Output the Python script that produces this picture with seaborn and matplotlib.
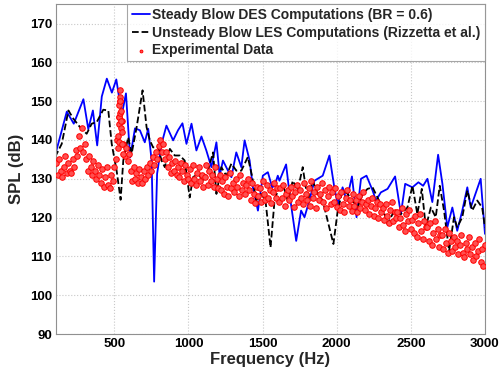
import numpy as np
import pandas as pd
import matplotlib
matplotlib.use("Agg")
import matplotlib.pyplot as plt
import seaborn as sns

# Steady blow DES (blue)
des_freq = [108, 180, 227, 292, 325, 356, 385, 416, 450, 484, 514, 551, 579, 607, 640,
            673, 706, 729, 752, 769, 789, 819, 852, 897, 930, 960, 987, 1021, 1054, 1088,
            1121, 1155, 1189, 1211, 1233, 1267, 1290, 1323, 1357, 1379, 1413, 1435, 1469,
            1502, 1536, 1565, 1581, 1603, 1614, 1659, 1682, 1727, 1760, 1783, 1816, 1850,
            1906, 1951, 1984, 2007, 2040, 2067, 2103, 2134, 2164, 2201, 2242, 2265, 2298,
            2343, 2394, 2433, 2462, 2511, 2551, 2583, 2612, 2645, 2684, 2713, 2746, 2780,
            2813, 2847, 2881, 2904, 2971, 3000]
des_spl = [137.0, 147.3, 144.2, 150.5, 142.8, 147.6, 138.6, 151.2, 155.8, 152.2, 155.6,
           146.5, 152.0, 135.5, 143.0, 142.5, 139.4, 142.9, 134.7, 103.5, 131.3, 139.0,
           143.7, 139.9, 142.5, 144.3, 139.0, 144.2, 137.3, 140.9, 137.3, 133.0, 139.4,
           130.8, 134.7, 132.1, 130.4, 136.8, 133.0, 139.9, 134.7, 127.8, 121.8, 130.8,
           131.7, 127.8, 128.2, 130.8, 129.5, 133.7, 126.1, 114.0, 121.8, 120.1, 124.4,
           129.5, 130.8, 136.0, 127.8, 123.5, 127.8, 124.4, 130.6, 120.1, 130.0, 130.8,
           127.0, 124.4, 126.5, 127.4, 130.6, 120.9, 128.7, 127.8, 129.1, 128.2, 130.0,
           124.0, 136.2, 128.7, 117.5, 122.6, 116.6, 121.8, 127.8, 122.6, 130.0, 115.8]

# Unsteady blow LES (black dashed)
les_freq = [101, 146, 191, 224, 269, 314, 348, 382, 426, 460, 483, 516, 543, 561, 594,
            617, 651, 691, 718, 740, 762, 796, 819, 841, 875, 908, 942, 975, 1009, 1031,
            1065, 1099, 1132, 1166, 1189, 1222, 1256, 1290, 1323, 1357, 1401, 1431, 1458,
            1491, 1520, 1554, 1581, 1603, 1636, 1670, 1704, 1737, 1771, 1805, 1838, 1872,
            1906, 1939, 1978, 2007, 2040, 2074, 2107, 2141, 2175, 2208, 2242, 2275, 2309,
            2343, 2388, 2433, 2477, 2511, 2544, 2574, 2601, 2635, 2668, 2695, 2724, 2758,
            2791, 2813, 2847, 2881, 2914, 2948, 2981, 3000]
les_spl = [135.6, 139.0, 147.6, 145.5, 143.3, 141.6, 144.2, 144.6, 147.8, 147.6, 139.0,
           132.1, 124.6, 134.7, 140.7, 136.4, 143.3, 152.8, 143.3, 139.9, 138.1, 138.1,
           134.7, 133.0, 137.7, 136.0, 136.0, 134.7, 125.2, 130.4, 131.3, 129.5, 132.1,
           136.8, 126.1, 133.0, 130.8, 133.9, 132.1, 132.1, 135.6, 130.4, 124.4, 126.1,
           124.4, 112.3, 124.4, 127.0, 128.7, 124.4, 129.5, 127.0, 133.0, 124.4, 129.5,
           126.1, 124.4, 119.2, 113.2, 121.8, 127.0, 126.1, 124.4, 122.6, 126.1, 127.4,
           127.8, 125.2, 122.6, 118.3, 121.8, 120.9, 122.6, 128.2, 120.9, 127.4, 117.5,
           122.6, 120.1, 128.2, 121.8, 111.4, 120.1, 117.5, 120.1, 127.0, 121.8, 124.4,
           122.6, 117.5]

# Experimental data (red), 10 Hz bins from 110 to 3000 Hz
exp_freq = list(range(110, 3001, 10))
exp_spl = [
    134, 131, 135, 132, 130.5, 133, 136, 131.5, 134, 132,
    131.5, 135, 133, 137.5, 136, 141, 138, 143, 137, 139,
    135, 132, 136, 133, 131, 134.5, 132, 130, 133.5, 131,
    129, 132.5, 128, 130.5, 133, 128.5, 127.7, 131, 129.5, 133,
    135, 140, 146, 150, 145, 139, 136, 138, 134.5, 136.5,
    132, 129.5, 133, 130, 131.5, 129, 132.5, 130.5, 128.8, 132,
    130, 133, 131, 134, 132, 135.5, 133.5, 137, 135, 138.5,
    140, 137, 139, 135, 137, 133, 135.5, 131.5, 134, 132,
    134.5, 131, 133, 130.5, 134, 132, 129.5, 133.5, 131, 130,
    132.5, 129, 133.5, 130, 128.5, 131.5, 133, 129.5, 131, 128,
    130.5, 133.5, 128.5, 132, 129.5, 131, 128, 133, 130, 127.5,
    131, 127, 129.5, 126, 130.5, 128, 125.5, 131.5, 127.5, 129,
    126.5, 130, 128, 125.5, 131, 127, 129, 126, 128.5, 130,
    127, 124.5, 129, 126, 123.8, 128, 125.5, 127.5, 124, 129.5,
    126, 124.5, 128.5, 125, 127, 123.8, 126.5, 129, 125, 127.5,
    124, 127.5, 125, 128.5, 123, 126, 127, 124.5, 128, 125.5,
    122.8, 126.5, 128.5, 124, 127, 125, 123.5, 129, 126, 124.5,
    127.5, 123, 129.5, 125, 126.5, 122.5, 128, 124.5, 126, 129,
    124, 127, 122.5, 125.5, 128, 123.5, 126.5, 124, 127.5, 122.8,
    125.5, 122, 126.5, 123.5, 121.5, 125, 127, 123, 124.5, 121.8,
    126, 123, 124.5, 121.5, 125.5, 122.5, 124, 126.5, 122, 123.5,
    124.5, 121, 123, 125, 120.5, 122.5, 124, 120, 123.5, 121.5,
    122.5, 119.5, 123.5, 120.5, 118.5, 122, 124, 119, 121.5, 120,
    121.5, 117.5, 120, 122.5, 118, 116.5, 121, 119, 122, 117,
    119.5, 116, 120.5, 115, 118.5, 121, 116.5, 114.5, 119, 117.5,
    117.5, 114, 118.5, 113, 116, 119, 114.5, 117, 112.5, 115.5,
    115.5, 112, 117, 113.5, 110.8, 116, 114, 111.5, 115, 112.5,
    114, 110.5, 113, 115.5, 111, 109.8, 113.5, 112, 115, 110.5,
    112.5, 109, 113.5, 110, 111.5, 114.5, 108.5, 112, 107.5, 113,
]
# extra points in the narrow peak near 540 Hz
spike_freq = [525, 528, 530, 532, 533, 535, 537, 538, 540, 542, 544, 545, 548, 550, 553, 556]
spike_spl = [138, 141, 146, 139.5, 144, 149, 151, 147, 152.8, 150, 143, 147.5, 145, 142, 139, 136.5]

des = pd.DataFrame({"f": des_freq, "spl": des_spl})
les = pd.DataFrame({"f": les_freq, "spl": les_spl})
exp = pd.DataFrame({"f": exp_freq + spike_freq, "spl": exp_spl + spike_spl})

sns.set_style("white")
plt.rcParams["font.family"] = ["Liberation Sans", "DejaVu Sans"]
plt.rcParams["font.weight"] = "bold"

fig = plt.figure(figsize=(5.01, 3.77), dpi=100)
ax = fig.add_axes([0.112, 0.114, 0.856, 0.875])

sns.lineplot(data=des, x="f", y="spl", ax=ax, color="#0000ff", lw=1.3, sort=False,
             label="Steady Blow DES Computations (BR = 0.6)")
sns.lineplot(data=les, x="f", y="spl", ax=ax, color="black", lw=1.3, sort=False,
             linestyle="--", dashes=(2.5, 1.5), label="Unsteady Blow LES Computations (Rizzetta et al.)")
sns.scatterplot(data=exp, x="f", y="spl", ax=ax, marker="o", s=16, color="#ff5050",
                edgecolor="#ff0000", linewidth=0.7, label="Experimental Data", zorder=3)

ax.set_xlim(108, 3000)
ax.set_ylim(90, 175)
ax.set_xticks([500, 1000, 1500, 2000, 2500, 3000])
ax.set_yticks(range(90, 171, 10))
ax.grid(True, linestyle=":", color="#c8c8c8", lw=0.8)
for s in ax.spines.values():
    s.set_color("#909090")
    s.set_linewidth(0.8)
ax.tick_params(direction="in", length=3, labelsize=9.5, colors="black", pad=3)
for lab in ax.get_xticklabels() + ax.get_yticklabels():
    lab.set_fontweight("bold")
ax.set_xlabel("Frequency (Hz)", fontsize=12, fontweight="bold", labelpad=1)
ax.set_ylabel("SPL (dB)", fontsize=12, fontweight="bold", labelpad=4)

leg = ax.legend(loc="upper right", fontsize=10, frameon=True, fancybox=False,
                borderaxespad=0, handlelength=1.3, handletextpad=0.2, labelspacing=0.25,
                borderpad=0.3, markerscale=0.5)
leg.get_frame().set_edgecolor("#909090")
leg.get_frame().set_linewidth(0.8)
for t in leg.get_texts():
    t.set_fontweight("bold")

fig.savefig("out.png", dpi=100)
